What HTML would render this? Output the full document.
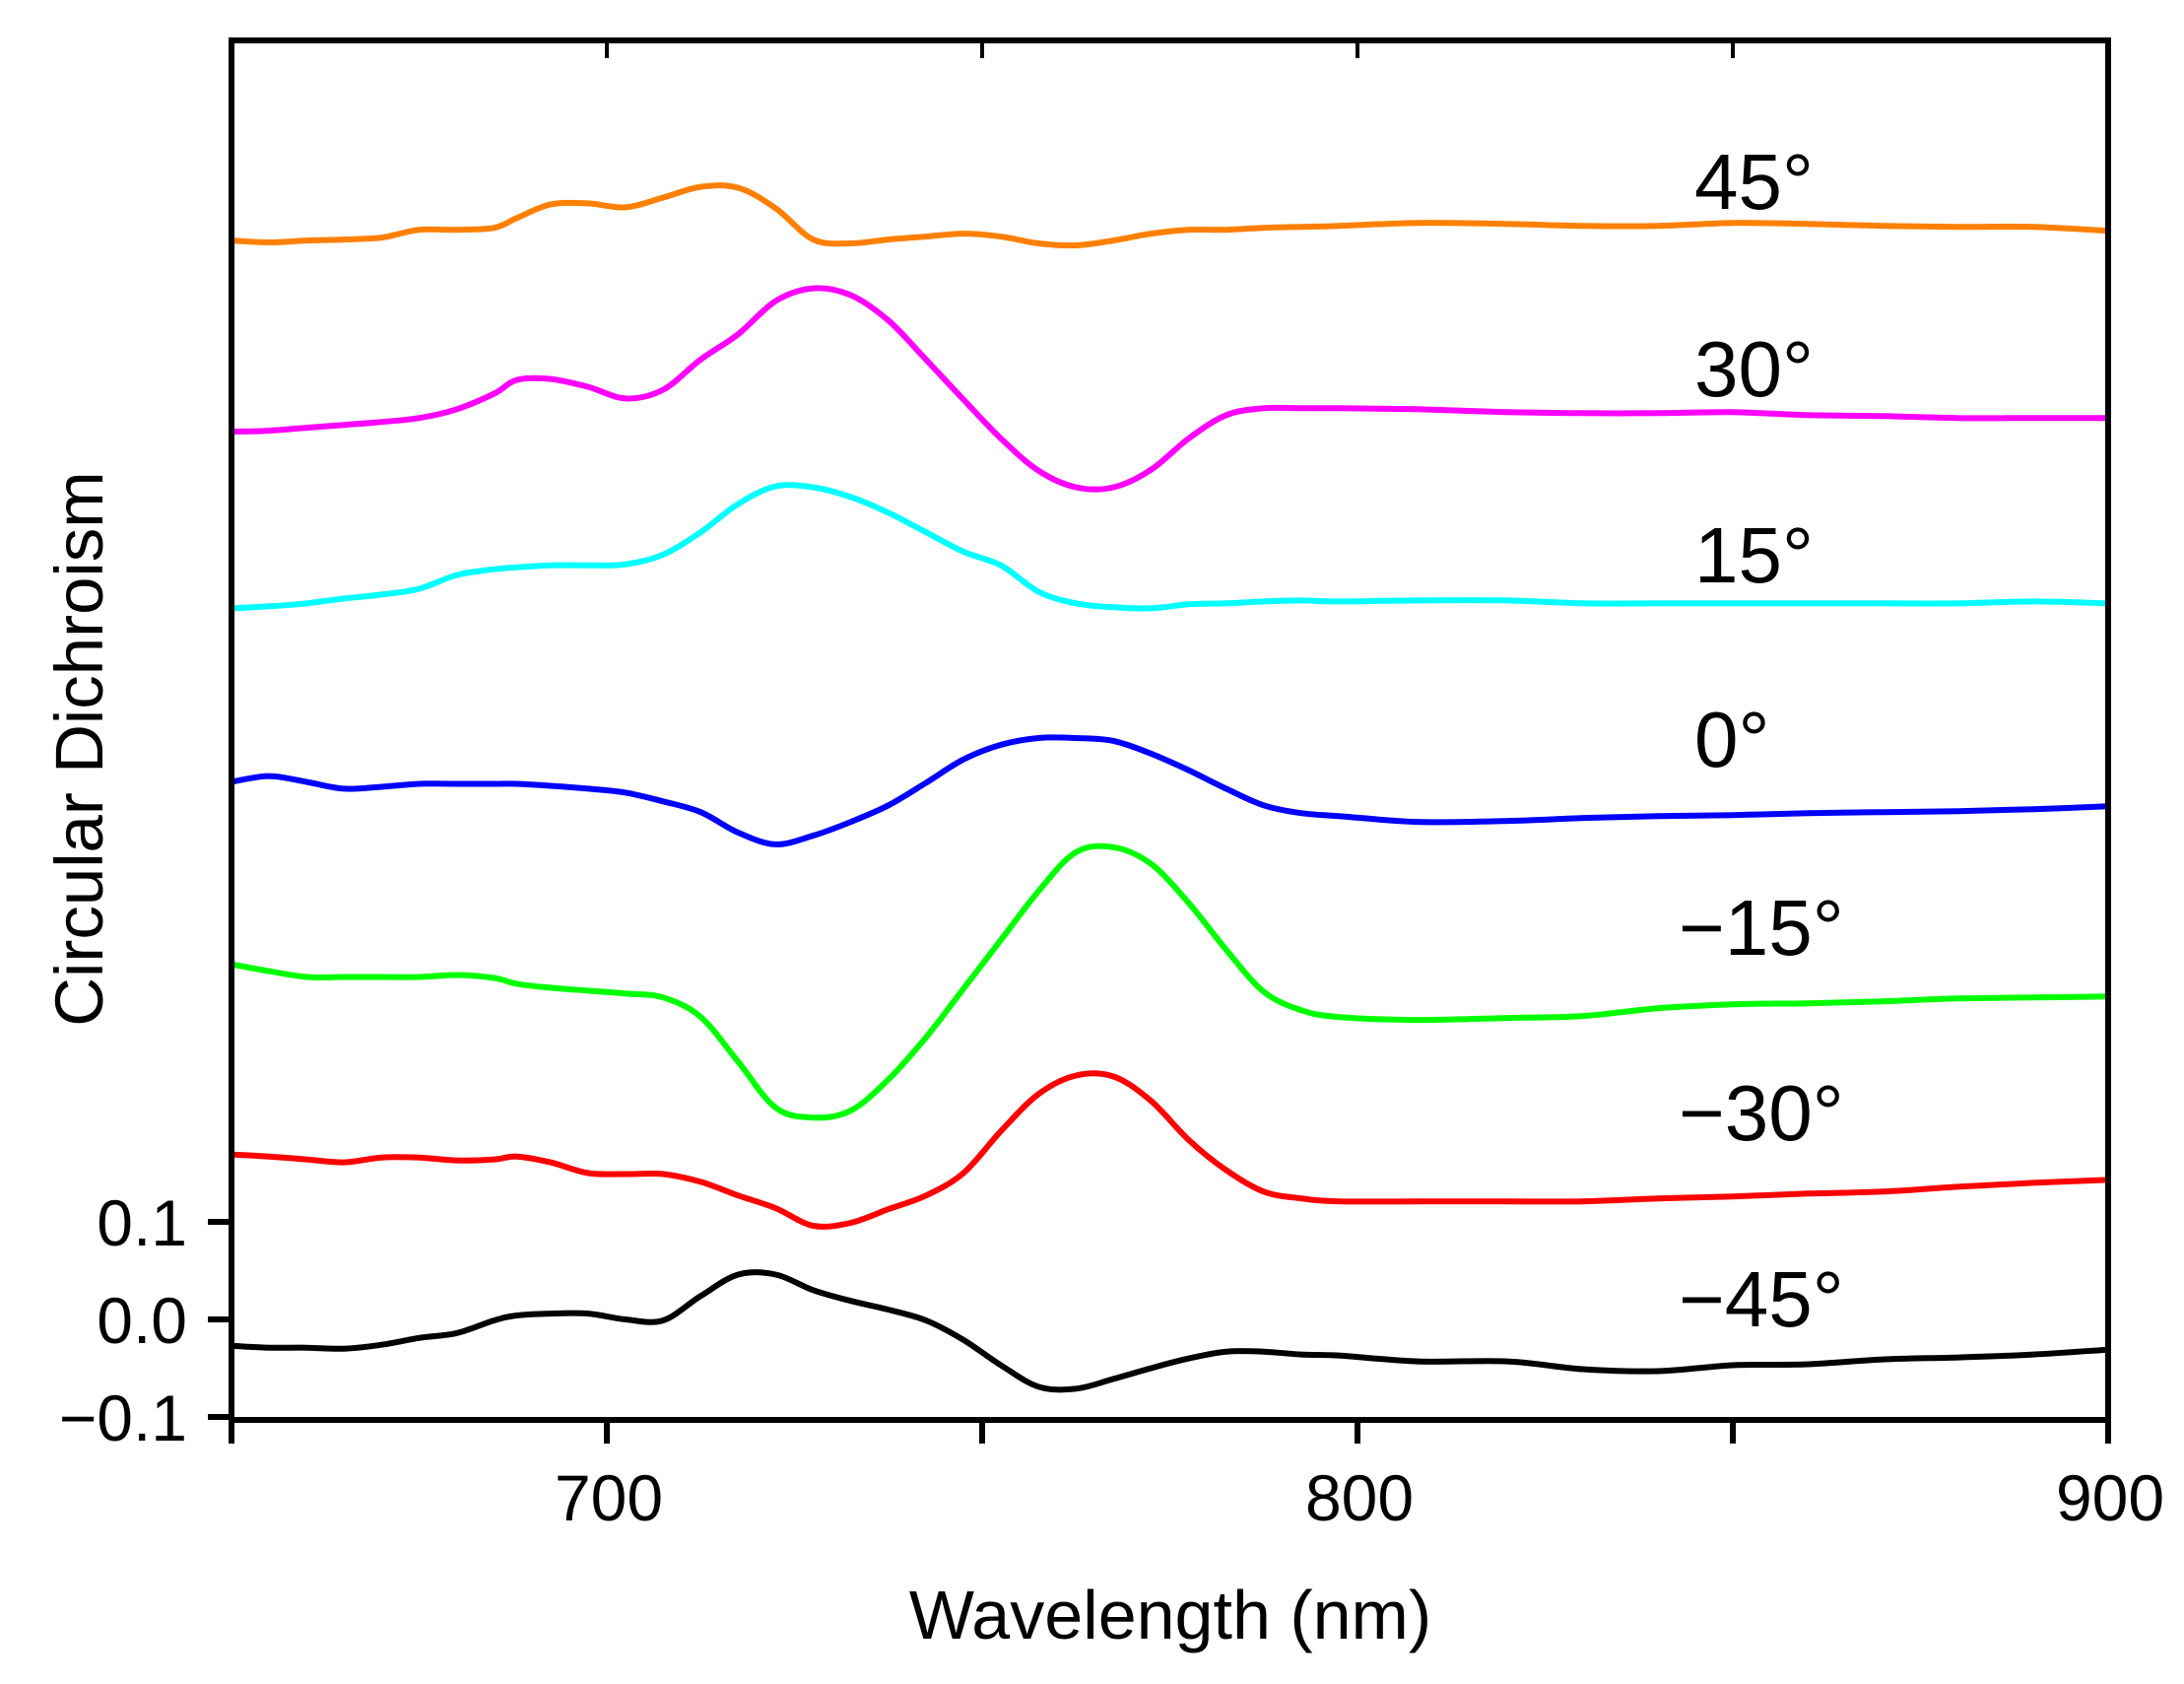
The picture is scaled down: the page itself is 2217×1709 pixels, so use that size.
<!DOCTYPE html>
<html><head><meta charset="utf-8"><style>
html,body{margin:0;padding:0;background:#fff;}
svg{display:block;font-family:"Liberation Sans",Arial,sans-serif;}
</style></head><body>
<svg id="chart" width="2217" height="1709" viewBox="0 0 2217 1709" xmlns="http://www.w3.org/2000/svg">
<g id="series"></g>
<g id="axes"></g>
<g id="labels"></g>
</svg>
<script>
const wavelengths=[650,655,660,665,670,675,680,685,688,692.5,697.5,702.5,707.5,712.5,717.5,722.5,727.5,732.5,737.5,742.5,747.5,752.5,757.5,762.5,767.5,772.5,777.5,782.5,787.5,792.5,797.5,808,820,830,840,850,860,870,880,890,900];
const seriesNames=["45°","30°","15°","0°","−15°","−30°","−45°"];
const seriesColors=["#ff8000","#ff00ff","#00ffff","#0000ff","#00ff00","#ff0000","#000000"];
const s45=[1.106,1.104,1.106,1.107,1.109,1.117,1.117,1.119,1.129,1.143,1.144,1.140,1.150,1.161,1.160,1.139,1.107,1.103,1.107,1.110,1.113,1.110,1.103,1.101,1.106,1.113,1.117,1.117,1.119,1.120,1.121,1.124,1.123,1.121,1.121,1.124,1.123,1.121,1.120,1.120,1.116];
const s30=[0.910,0.911,0.914,0.917,0.920,0.924,0.933,0.949,0.963,0.964,0.956,0.944,0.953,0.984,1.010,1.044,1.057,1.050,1.024,0.984,0.943,0.903,0.870,0.853,0.853,0.871,0.903,0.927,0.934,0.934,0.934,0.933,0.930,0.929,0.929,0.930,0.927,0.926,0.924,0.924,0.924];
const s15=[0.729,0.731,0.734,0.739,0.743,0.749,0.763,0.769,0.771,0.773,0.773,0.774,0.784,0.807,0.836,0.854,0.853,0.843,0.827,0.807,0.787,0.773,0.746,0.734,0.730,0.729,0.733,0.734,0.736,0.737,0.736,0.737,0.737,0.734,0.734,0.734,0.734,0.734,0.734,0.736,0.734];
const s0=[0.551,0.557,0.551,0.544,0.546,0.549,0.549,0.549,0.549,0.547,0.544,0.540,0.531,0.520,0.499,0.487,0.496,0.510,0.527,0.550,0.574,0.589,0.596,0.596,0.593,0.580,0.563,0.544,0.527,0.519,0.516,0.510,0.511,0.514,0.516,0.517,0.519,0.520,0.521,0.523,0.526];
const sm15=[0.364,0.357,0.351,0.351,0.351,0.351,0.353,0.350,0.344,0.340,0.337,0.334,0.330,0.310,0.264,0.217,0.207,0.214,0.246,0.289,0.339,0.389,0.439,0.479,0.484,0.467,0.427,0.379,0.336,0.317,0.310,0.307,0.309,0.311,0.319,0.323,0.324,0.326,0.329,0.330,0.331];
const sm30=[0.169,0.167,0.164,0.161,0.166,0.166,0.163,0.164,0.167,0.161,0.150,0.149,0.149,0.141,0.127,0.114,0.096,0.099,0.113,0.127,0.150,0.193,0.231,0.250,0.249,0.224,0.184,0.153,0.131,0.124,0.121,0.121,0.121,0.121,0.124,0.126,0.129,0.131,0.136,0.140,0.143];
const sm45=[-0.027,-0.029,-0.029,-0.030,-0.026,-0.019,-0.014,-0.001,0.004,0.006,0.006,0.000,-0.001,0.024,0.046,0.046,0.030,0.019,0.010,-0.001,-0.021,-0.047,-0.069,-0.071,-0.061,-0.050,-0.040,-0.033,-0.033,-0.036,-0.037,-0.043,-0.043,-0.051,-0.053,-0.047,-0.046,-0.041,-0.039,-0.036,-0.031];
const xTicks=[650,700,750,800,850,900];
const xTickLabels=["","700","","800","","900"];
const yTicks=[-0.1,0.0,0.1];
const yTickLabels=["−0.1","0.0","0.1"];

const allSeries=[s45,s30,s15,s0,sm15,sm30,sm45];
const X0=235,X1=2140,Y0=41,Y1=1441;
const xmin=650,xmax=900;
function xs(w){return X0+(w-xmin)/(xmax-xmin)*(X1-X0);}
function ys(v){return 1339-v*990;}
const NS="http://www.w3.org/2000/svg";
function mk(tag,attrs,parent){const e=document.createElementNS(NS,tag);for(const k in attrs)e.setAttribute(k,attrs[k]);parent.appendChild(e);return e;}
const gS=document.getElementById('series'),gA=document.getElementById('axes'),gL=document.getElementById('labels');
function smooth(pts){let d="M"+pts[0][0].toFixed(1)+","+pts[0][1].toFixed(1);
for(let i=0;i<pts.length-1;i++){const p0=pts[Math.max(0,i-1)],p1=pts[i],p2=pts[i+1],p3=pts[Math.min(pts.length-1,i+2)];
const c1=[p1[0]+(p2[0]-p0[0])/6,p1[1]+(p2[1]-p0[1])/6],c2=[p2[0]-(p3[0]-p1[0])/6,p2[1]-(p3[1]-p1[1])/6];
d+=" C"+c1[0].toFixed(1)+","+c1[1].toFixed(1)+" "+c2[0].toFixed(1)+","+c2[1].toFixed(1)+" "+p2[0].toFixed(1)+","+p2[1].toFixed(1);}
return d;}
const seriesKeys=["45","30","15","0","minus-15","minus-30","minus-45"];
allSeries.forEach((s,i)=>{
const pts=wavelengths.map((w,j)=>[xs(w),ys(s[j])]);
const p=mk('path',{d:smooth(pts),fill:'none',stroke:seriesColors[i],'stroke-width':6,'stroke-linejoin':'round'},gS);


const t=mk('text',{x:1720-(i>=4?16:0),y:[212,402,591,778,969,1157,1346][i],'font-size':80,fill:'#000'},gL);
t.textContent=seriesNames[i];


});
const fr=mk('rect',{x:X0,y:Y0,width:X1-X0,height:Y1-Y0,fill:'none',stroke:'#000','stroke-width':6},gA);


xTicks.forEach((w,i)=>{
const t=mk('line',{x1:xs(w),x2:xs(w),y1:Y1,y2:Y1+24,stroke:'#000','stroke-width':6},gA);


if(i>0&&i<xTicks.length-1){const tt=mk('line',{x1:xs(w),x2:xs(w),y1:Y0,y2:Y0+18,stroke:'#000','stroke-width':4},gA);

}
if(xTickLabels[i]){const l=mk('text',{x:xs(w)+2,y:1543,'font-size':66,'text-anchor':'middle',fill:'#000'},gA);
l.textContent=xTickLabels[i];

}
});
yTicks.forEach((v,i)=>{
const t=mk('line',{x1:X0-24,x2:X0,y1:ys(v),y2:ys(v),stroke:'#000','stroke-width':6},gA);


const l=mk('text',{x:190,y:ys(v)+24,'font-size':66,'text-anchor':'end',fill:'#000'},gA);
l.textContent=yTickLabels[i];


});
const xt=mk('text',{x:1188,y:1663,'font-size':70,'text-anchor':'middle',fill:'#000'},gA);
xt.textContent="Wavelength (nm)";


const yt=mk('text',{x:0,y:0,'font-size':69,'text-anchor':'middle',fill:'#000',transform:'translate(104,760) rotate(-90)'},gA);
yt.textContent="Circular Dichroism";


</script>
</body></html>
